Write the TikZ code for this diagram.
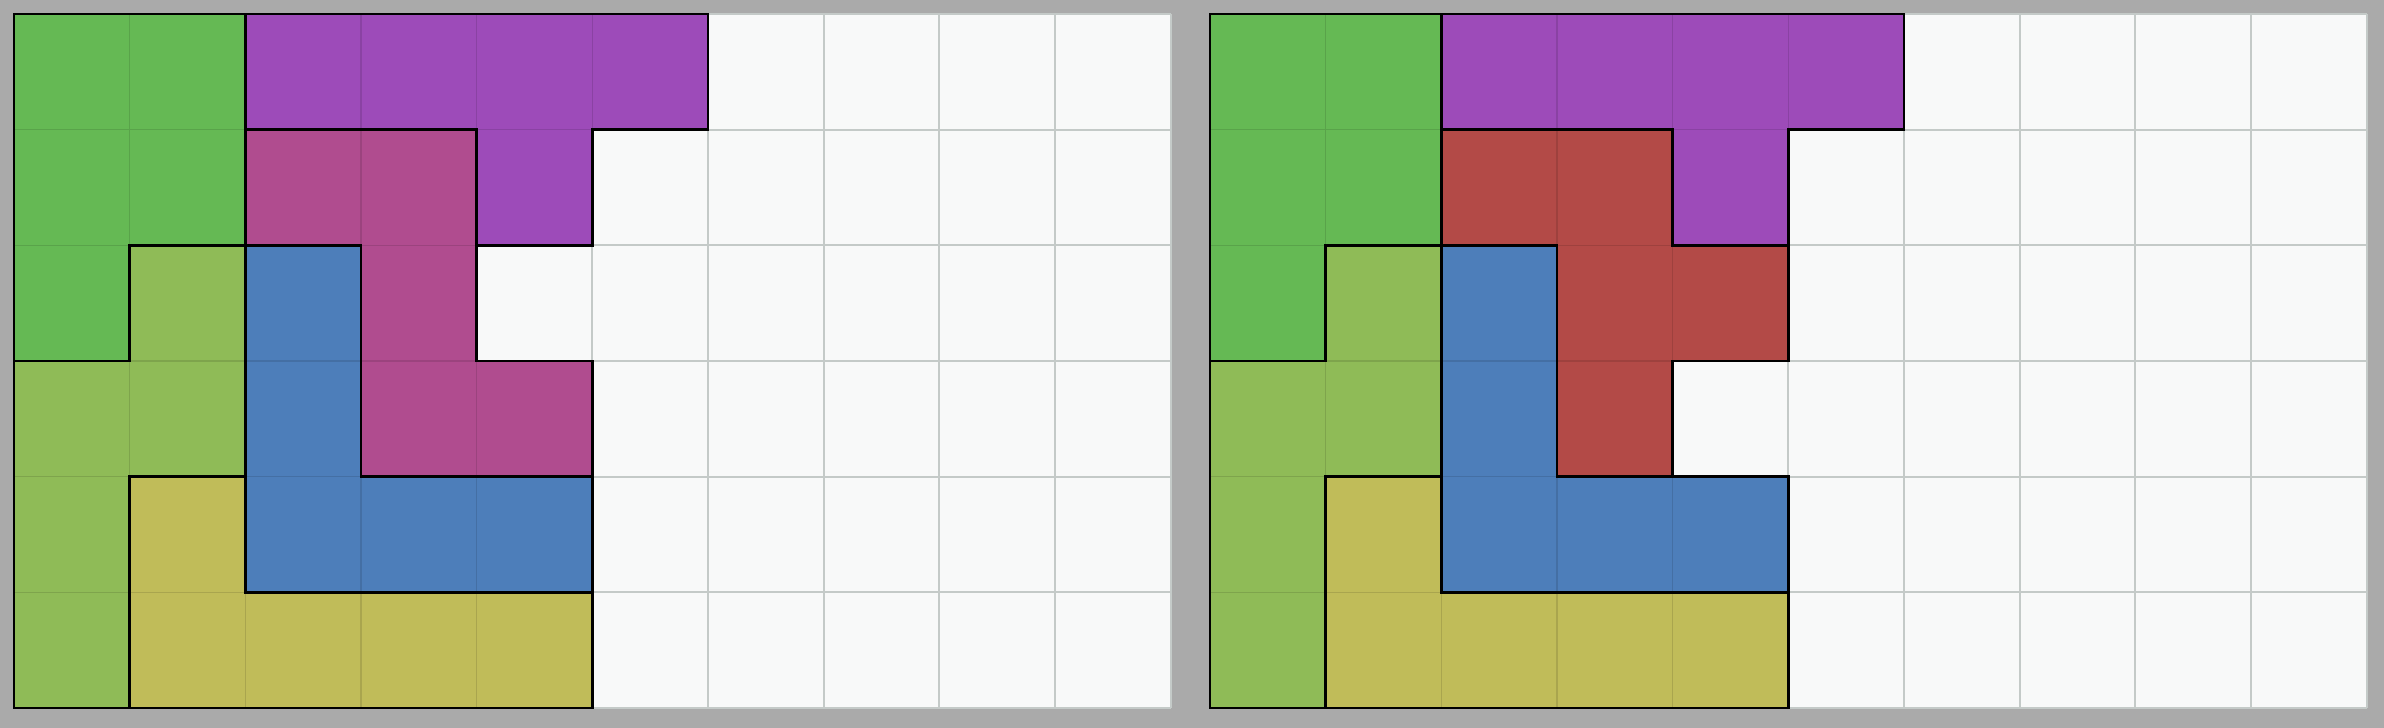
\documentclass[tikz,border=0pt]{standalone}
\definecolor{bggray}{HTML}{AAAAAA}
\definecolor{emptycell}{HTML}{F8F9F9}
\definecolor{gridgray}{HTML}{C4CAC8}
\definecolor{pgreen}{HTML}{65B954}
\definecolor{ppurple}{HTML}{9D4BB9}
\definecolor{pmagenta}{HTML}{B04C8F}
\definecolor{pblue}{HTML}{4D7EBA}
\definecolor{plgreen}{HTML}{8FBB57}
\definecolor{pyellow}{HTML}{C0BC59}
\definecolor{pred}{HTML}{B34A47}
\tikzset{
  outline/.style={draw=black,line width=0.7pt,line join=miter},
  emptygrid/.style={draw=gridgray,line width=0.6pt},
  board/.style={x=1cm,y=-1cm,scale=1.156},
}
\newcommand\drawpiece[2]{%
  \fill[#1] #2;
  \begin{scope}
    \clip #2;
    \draw[#1!88!black,line width=0.35pt] (0,0) grid (10,6);
  \end{scope}
  \draw[outline] #2;
}
\newcommand\commonpieces{%
  \drawpiece{pgreen}{(0,0)--(2,0)--(2,2)--(1,2)--(1,3)--(0,3)--cycle}
  \drawpiece{ppurple}{(2,0)--(6,0)--(6,1)--(5,1)--(5,2)--(4,2)--(4,1)--(2,1)--cycle}
  \drawpiece{pblue}{(2,2)--(3,2)--(3,4)--(5,4)--(5,5)--(2,5)--cycle}
  \drawpiece{plgreen}{(1,2)--(2,2)--(2,4)--(1,4)--(1,6)--(0,6)--(0,3)--(1,3)--cycle}
  \drawpiece{pyellow}{(1,4)--(2,4)--(2,5)--(5,5)--(5,6)--(1,6)--cycle}
}
\begin{document}
\begin{tikzpicture}[x=0.01cm,y=-0.01cm]
  \fill[bggray] (0,0) rectangle (2384,728);
  \useasboundingbox (0,0) rectangle (2384,728);
  % left grid
  \begin{scope}[shift={(14,14)},board]
    \fill[emptycell] (0,0) rectangle (10,6);
    \draw[emptygrid] (0,0) grid (10,6);
    \commonpieces
    \drawpiece{pmagenta}{(2,1)--(4,1)--(4,3)--(5,3)--(5,4)--(3,4)--(3,2)--(2,2)--cycle}
  \end{scope}
  % right grid
  \begin{scope}[shift={(1210,14)},board]
    \fill[emptycell] (0,0) rectangle (10,6);
    \draw[emptygrid] (0,0) grid (10,6);
    \commonpieces
    \drawpiece{pred}{(2,1)--(4,1)--(4,2)--(5,2)--(5,3)--(4,3)--(4,4)--(3,4)--(3,2)--(2,2)--cycle}
  \end{scope}
\end{tikzpicture}
\end{document}
